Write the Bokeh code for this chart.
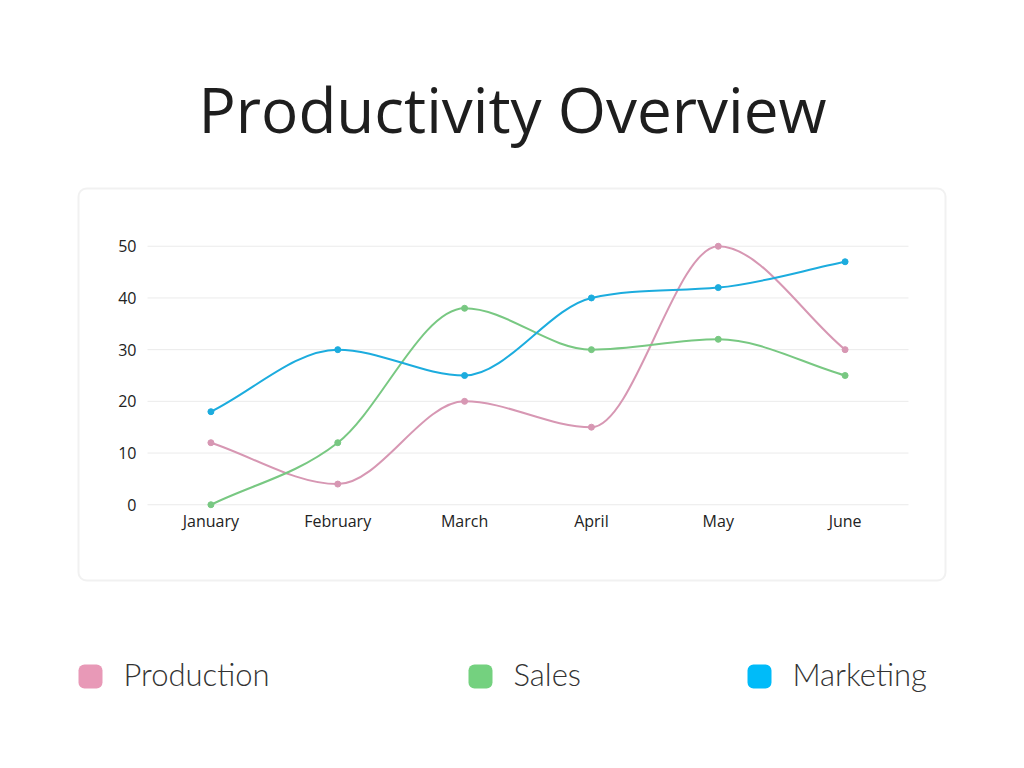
from bokeh.plotting import figure
from bokeh.models import Range1d, FixedTicker, Label, BoxAnnotation, LinearAxis
from bokeh.embed import file_html
from bokeh.resources import INLINE

months = ["January", "February", "March", "April", "May", "June"]
series_names = ["Production", "Sales", "Marketing"]
production = [12, 4, 20, 15, 50, 30]
sales = [0, 12, 38, 30, 32, 25]
marketing = [18, 30, 25, 40, 42, 47]
y_ticks = [0, 10, 20, 30, 40, 50]
line_colors = ["#D797B3", "#78C882", "#1CACDE"]
legend_colors = ["#E899B7", "#74D17F", "#00BBF9"]

W, H = 1024, 768
# pixel layout of the plotting area (canvas px)
PL, PR, PT, PB = 147.0, 908.0, 238.0, 512.0
X0, X1 = -0.5, 5.5
Y0, Y1 = -1.5, 51.5
kx = (PR - PL) / (X1 - X0)
ky = (PB - PT) / (Y1 - Y0)


def px2x(px):
    return X0 + (px - PL) / kx


def py2y(py):
    return Y0 + (PB - py) / ky


p = figure(width=W, height=H, output_backend="svg", toolbar_location=None,
           x_range=Range1d(px2x(0), px2x(W)), y_range=Range1d(py2y(H), py2y(0)),
           x_axis_location=None, y_axis_location=None,
           min_border=0, min_border_left=0, min_border_right=0,
           min_border_top=0, min_border_bottom=0)
p.outline_line_color = None
p.background_fill_color = "white"
p.border_fill_color = "white"
p.xgrid.visible = False
p.ygrid.visible = False

xs = list(range(len(months)))


def mono_controls(vals):
    n = len(vals)
    d = [(vals[i + 1] - vals[i]) / (xs[i + 1] - xs[i]) for i in range(n - 1)]
    m = [0.0] * n
    m[0] = d[0]
    m[-1] = d[-1]
    for i in range(1, n - 1):
        if d[i - 1] == 0 or d[i] == 0 or (d[i - 1] > 0) != (d[i] > 0):
            m[i] = 0.0
        else:
            m[i] = (d[i - 1] + d[i]) / 2.0
    for i in range(n - 1):
        if d[i] == 0:
            m[i] = m[i + 1] = 0.0
            continue
        a = m[i] / d[i]
        b = m[i + 1] / d[i]
        s = a * a + b * b
        if s > 9:
            t = 3 / s ** 0.5
            m[i] = a * t * d[i]
            m[i + 1] = b * t * d[i]
    cx0, cy0, cx1, cy1 = [], [], [], []
    for i in range(n - 1):
        dx = (xs[i + 1] - xs[i]) / 3.0
        cx0.append(xs[i] + dx)
        cy0.append(vals[i] + m[i] * dx)
        cx1.append(xs[i + 1] - dx)
        cy1.append(vals[i + 1] - m[i + 1] * dx)
    return cx0, cy0, cx1, cy1


# rounded chart box
p.add_layout(BoxAnnotation(left=px2x(78), right=px2x(945), top=py2y(188), bottom=py2y(580),
                           fill_color=None, fill_alpha=0, line_color="#D2D2D2", line_width=2,
                           border_radius=8, level="underlay"))

# grid lines (only across the plotting area)
p.segment(x0=[X0] * len(y_ticks), x1=[X1] * len(y_ticks), y0=y_ticks, y1=y_ticks,
          line_color="#EBEBEB", line_width=1, level="underlay")

for vals, col in zip([production, sales, marketing], line_colors):
    cx0, cy0, cx1, cy1 = mono_controls(vals)
    p.bezier(x0=xs[:-1], y0=vals[:-1], x1=xs[1:], y1=vals[1:],
             cx0=cx0, cy0=cy0, cx1=cx1, cy1=cy1, line_color=col, line_width=2)
    p.scatter(xs, vals, size=6, fill_color=col, line_color=col)

# axes drawn inside the frame at fixed locations
xaxis = LinearAxis(ticker=FixedTicker(ticks=xs), fixed_location=py2y(506))
xaxis.major_label_overrides = {i: m for i, m in enumerate(months)}
yaxis = LinearAxis(ticker=FixedTicker(ticks=y_ticks), fixed_location=X0)
for ax in (xaxis, yaxis):
    ax.axis_line_color = None
    ax.major_tick_line_color = None
    ax.minor_tick_line_color = None
    ax.major_tick_out = 0
    ax.major_tick_in = 0
    ax.minor_tick_out = 0
    ax.major_label_text_font = "Open Sans"
    ax.major_label_text_font_size = "16px"
    ax.major_label_text_color = "#222222"
yaxis.major_label_standoff = 11
xaxis.major_label_standoff = 3
p.add_layout(xaxis, "below")
p.add_layout(yaxis, "left")

# title
p.add_layout(Label(x=px2x(512), y=py2y(108), text="Productivity Overview",
                   text_align="center", text_baseline="middle",
                   text_font="Open Sans", text_font_size="62px", text_color="#1E1E1E"))

# legend
leg_x = [78, 468, 747]
for name, col, lx in zip(series_names, legend_colors, leg_x):
    p.add_layout(BoxAnnotation(left=px2x(lx), right=px2x(lx + 24), top=py2y(664), bottom=py2y(688),
                               fill_color=col, fill_alpha=1, line_color=None, border_radius=6))
    p.add_layout(Label(x=px2x(lx + 45), y=py2y(673), text=name,
                       text_align="left", text_baseline="middle",
                       text_font="Lato Light, Lato", text_font_size="31px", text_color="#333333"))

open("out.html", "w").write(file_html(p, INLINE))
